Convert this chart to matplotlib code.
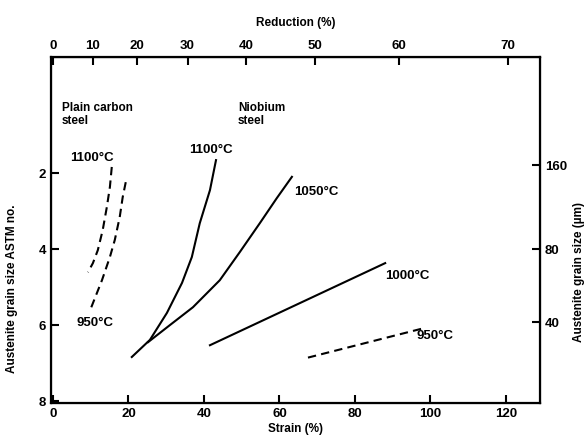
import numpy as np
import matplotlib
matplotlib.use("Agg")
import matplotlib.pyplot as plt

plt.rcParams["font.family"] = ["Liberation Sans", "DejaVu Sans"]
plt.rcParams["font.weight"] = "bold"

# ── data: strain (%) vs ASTM grain size no. ──────────────────────────────────
pc_1100_strain = [15.6, 15.1, 14.3, 13.2, 11.9, 10.6, 9.3]
pc_1100_astm = [1.84, 2.37, 2.89, 3.50, 4.03, 4.37, 4.61]
pc_950_strain = [19.3, 18.5, 17.7, 16.4, 15.1, 13.0, 10.1]
pc_950_astm = [2.24, 2.63, 3.16, 3.76, 4.21, 4.82, 5.55]

nb_1100_strain = [43.2, 41.6, 38.9, 36.8, 34.2, 30.2, 25.7, 20.9]
nb_1100_astm = [1.66, 2.45, 3.32, 4.21, 4.89, 5.68, 6.39, 6.84]
nb_1050_strain = [63.3, 59.3, 54.8, 49.5, 44.2, 37.1, 31.0, 25.2]
nb_1050_astm = [2.10, 2.66, 3.32, 4.08, 4.82, 5.53, 6.00, 6.45]
nb_1000_strain = [88.0, 41.6]
nb_1000_astm = [4.37, 6.53]
nb_950_strain = [97.5, 67.0]
nb_950_astm = [6.10, 6.87]

strain_ticks = [0, 20, 40, 60, 80, 100, 120]
astm_ticks = [2, 4, 6, 8]
reduction_ticks = [0, 10, 20, 30, 40, 50, 60, 70]
um_tick_pos = [1.79, 4.0, 5.92]
um_tick_labels = ["160", "80", "40"]

fig = plt.figure(figsize=(5.86, 4.36), dpi=100)
ax = fig.add_axes([0.087, 0.0757, 0.8345, 0.7933])

solid = dict(color="black", lw=1.5, solid_joinstyle="round")
dashed = dict(color="black", lw=1.5, linestyle=(0, (4, 2.5)))

ax.plot(pc_1100_strain, pc_1100_astm, **dashed)
ax.plot(pc_950_strain, pc_950_astm, **dashed)
ax.plot(nb_1100_strain, nb_1100_astm, **solid)
ax.plot(nb_1050_strain, nb_1050_astm, **solid)
ax.plot(nb_1000_strain, nb_1000_astm, **solid)
ax.plot(nb_950_strain, nb_950_astm, **dashed)

ax.set_xlim(-0.5, 129.0)
ax.set_ylim(8.05, -1.05)
ax.set_xticks(strain_ticks)
ax.set_yticks(astm_ticks)
ax.tick_params(direction="in", length=6, width=1.5, labelsize=9.5)
for sp in ax.spines.values():
    sp.set_linewidth(1.6)

ax.set_xlabel("Strain (%)", fontsize=8.5, fontweight="bold", labelpad=2)
ax.set_ylabel("Austenite grain size ASTM no.", fontsize=8.5, fontweight="bold")
ax.yaxis.set_label_coords(-0.068, 0.33)


# top axis: reduction, strain = -ln(1 - r)
def strain_to_red(s):
    s = np.asarray(s, dtype=float)
    return 100 * (1 - np.exp(-s / 100))


def red_to_strain(r):
    r = np.clip(np.asarray(r, dtype=float), -1e6, 99.999)
    return -100 * np.log(1 - r / 100)


top = ax.secondary_xaxis("top", functions=(strain_to_red, red_to_strain))
top.set_xticks(reduction_ticks)
top.tick_params(direction="in", length=6, width=1.5, labelsize=9.5)
top.set_xlabel("Reduction (%)", fontsize=8.5, fontweight="bold", labelpad=10)

# right axis: grain size in micrometres
right = ax.twinx()
right.set_ylim(ax.get_ylim())
right.set_yticks(um_tick_pos)
right.set_yticklabels(um_tick_labels)
right.tick_params(direction="in", length=6, width=1.5, labelsize=9.5)
right.set_ylabel("Austenite grain size (\u00b5m)", fontsize=8.5, fontweight="bold")
right.yaxis.set_label_coords(1.068, 0.38)

# ── labels on the curves ─────────────────────────────────────────────────────
fs = 9.5
ax.text(2.4, 0.47, "Plain carbon\nsteel", fontsize=8.5, ha="left", va="center", linespacing=1.1)
ax.text(49, 0.45, "Niobium\nsteel", fontsize=8.5, ha="left", va="center", linespacing=1.1)
ax.text(10.3, 1.6, "1100°C", fontsize=fs, ha="center", va="center")
ax.text(11.1, 5.95, "950°C", fontsize=fs, ha="center", va="center")
ax.text(41.9, 1.39, "1100°C", fontsize=fs, ha="center", va="center")
ax.text(69.7, 2.5, "1050°C", fontsize=fs, ha="center", va="center")
ax.text(93.8, 4.71, "1000°C", fontsize=fs, ha="center", va="center")
ax.text(101.2, 6.29, "950°C", fontsize=fs, ha="center", va="center")

fig.savefig("out.png", dpi=100)
